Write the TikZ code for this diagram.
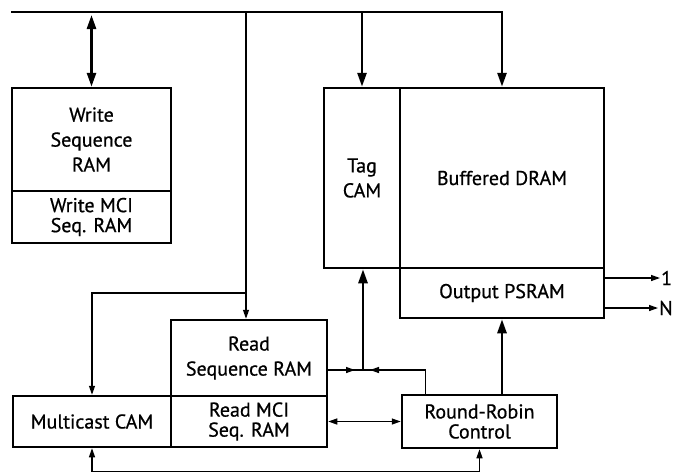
\documentclass[tikz,border=0pt]{standalone}
\usepackage{fontspec}
\setmainfont{PT Sans}
\newfontfamily\lblfont{PT Sans}[FakeBold=0.7]
\usetikzlibrary{arrows.meta}
\begin{document}
\begin{tikzpicture}[x=1pt,y=-1pt,
  blk/.style={draw,line width=2.5pt,inner sep=0pt,align=center,font=\fontsize{20}{25}\selectfont\lblfont},
  tight/.style={font=\fontsize{20}{20}\selectfont\lblfont},
  thk/.style={line width=2.7pt,-{Triangle[length=14pt,width=9pt]}},
  thkb/.style={line width=2.7pt,{Triangle[length=14pt,width=9pt]}-{Triangle[length=14pt,width=9pt]}},
  thn/.style={line width=1.3pt,-{Triangle[length=9pt,width=6pt]}},
  thnl/.style={line width=1.3pt},
  thnb/.style={line width=1.3pt,{Triangle[length=9pt,width=6pt]}-{Triangle[length=9pt,width=6pt]}},
  lbl/.style={font=\fontsize{20}{20}\selectfont\lblfont,inner sep=1pt}]
\useasboundingbox (0,0) rectangle (675,475);
% boxes
\node[blk,minimum width=159pt,minimum height=103pt] (ws) at (91.5,139.5) {Write\\Sequence\\RAM};
\node[blk,tight,minimum width=159pt,minimum height=52pt] (wm) at (91.5,217) {Write MCI\\Seq. RAM};
\node[blk,minimum width=76pt,minimum height=180pt] (tag) at (362,178) {Tag\\CAM};
\node[blk,minimum width=204pt,minimum height=180pt] (dram) at (502,178) {Buffered DRAM};
\node[blk,minimum width=204pt,minimum height=50pt] (psram) at (502,293) {Output PSRAM};
\node[blk,minimum width=156pt,minimum height=76pt] (rs) at (249,358) {Read\\Sequence RAM};
\node[blk,tight,minimum width=156pt,minimum height=51pt] (rm) at (249,421.5) {Read MCI\\Seq. RAM};
\node[blk,minimum width=158pt,minimum height=51pt] (mc) at (92,421.5) {Multicast CAM};
\node[blk,tight,minimum width=155pt,minimum height=53pt] (rr) at (479.5,421.5) {Round-Robin\\Control};
% output labels
\node[lbl,anchor=west] (n1) at (660,278) {1};
\node[lbl,anchor=west] (nN) at (658,308) {N};
% coordinates
\coordinate (busL) at (11,12);
\coordinate (br) at (246,12);
\coordinate (bm) at (246,293);
\coordinate (j) at (363,370);
% bus
\draw[thk] (busL) -| (dram.north);
\draw[thk] (tag.north |- busL) -- (tag.north);
\draw[thkb,shorten <=3pt] (ws.north |- busL) -- (ws.north);
% read branch
\draw[thn] (br) -- (br |- rs.north);
\draw[thn] (bm) -| (mc.north);
% bottom line
\draw[thnb] (mc.south) -- ++(0,23) -| (rr.south);
% junction
\draw[thnl] (rs.east |- j) -- (j);
\draw[thn,shorten >=8pt] (rs.east |- j) -- (j);
\draw[thnl] ([xshift=25pt]rr.north west) |- (j);
\draw[thn,shorten >=7pt] ([xshift=25pt]rr.north west) |- (j);
\draw[thk] (j) -- (j |- tag.south);
% psram
\draw[thk] (psram.south |- rr.north) -- (psram.south);
% MCI - RR
\draw[thnb] (rm.east) -- (rr.west);
% outputs
\draw[thn] (psram.east |- n1) -- (n1.west);
\draw[thn] (psram.east |- nN) -- (nN.west);
\end{tikzpicture}
\end{document}
